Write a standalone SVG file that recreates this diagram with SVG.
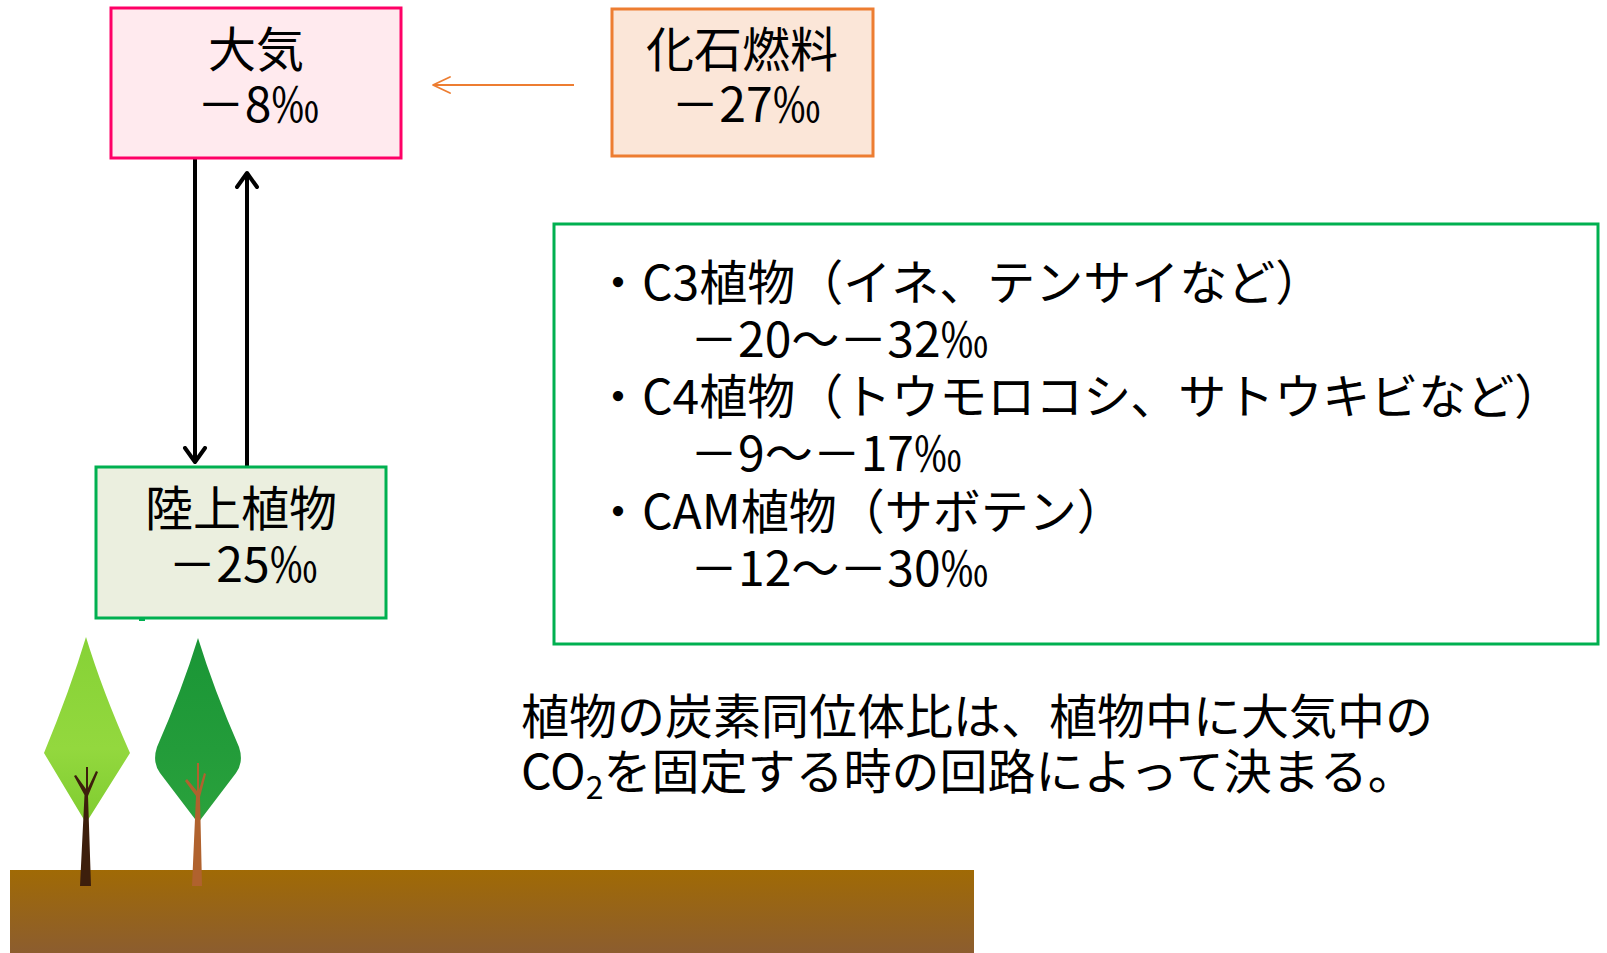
<svg xmlns="http://www.w3.org/2000/svg" width="1607" height="953" viewBox="0 0 1607 953">
  <style>
    text { font-family: "Noto Sans CJK JP", "Noto Sans", sans-serif; font-size: 48px; fill: #000; }
    .mid { text-anchor: middle; }
    .box { stroke-width: 3; }
    .flow { stroke: #000; stroke-width: 4; }
  </style>
  <defs>
    <marker id="headBlack" markerUnits="userSpaceOnUse" markerWidth="30" markerHeight="30" viewBox="-16 -15 30 30" refX="0" refY="0" orient="auto">
      <path d="M-14,-10 L0,0 L-14,10" fill="none" stroke="#000" stroke-width="4" stroke-linecap="round" stroke-linejoin="round"/>
    </marker>
    <marker id="headOrange" markerUnits="userSpaceOnUse" markerWidth="24" markerHeight="24" viewBox="-20 -12 24 24" refX="0" refY="0" orient="auto">
      <path d="M-17,-8 L0,0 L-17,8" fill="none" stroke="#ED7D31" stroke-width="1.8" stroke-linecap="round" stroke-linejoin="round"/>
    </marker>
    <linearGradient id="soil" x1="0" y1="0" x2="0" y2="1">
      <stop offset="0" stop-color="#A06A05"/>
      <stop offset="1" stop-color="#8C5D2F"/>
    </linearGradient>
    <linearGradient id="leafLight" x1="0" y1="0" x2="0" y2="1">
      <stop offset="0" stop-color="#86D236"/>
      <stop offset="0.6" stop-color="#93D83E"/>
      <stop offset="1" stop-color="#7FCC30"/>
    </linearGradient>
    <linearGradient id="leafDark" x1="0" y1="0" x2="0" y2="1">
      <stop offset="0" stop-color="#1A9636"/>
      <stop offset="0.6" stop-color="#239C3A"/>
      <stop offset="1" stop-color="#2AA23C"/>
    </linearGradient>
  </defs>

  <!-- ground -->
  <rect x="10" y="870" width="964" height="83" fill="url(#soil)"/>

  <!-- trees -->
  <g id="tree-left">
    <path d="M86,637 Q70,690 44,753 L86,823 L130,753 Q102,690 86,637 Z" fill="url(#leafLight)"/>
    <path d="M80,886 L84.5,795 L74,776 L76,775 L86,789 L86,767 L88,767 L88,788 L96,771 L98,772 L88,796 L91,886 Z" fill="#3D1F0C"/>
  </g>
  <g id="tree-right">
    <path d="M198,638 Q182,690 157,747 Q152,762 160,773 L198,823 L236,773 Q244,762 239,747 Q214,690 198,638 Z" fill="url(#leafDark)"/>
    <path d="M192,886 L196,796 L185,781 L187,779 L197,791 L197,763 L199,763 L199,790 L204,773 L206,774 L200,797 L202,886 Z" fill="#B0622E"/>
  </g>

  <!-- connectors -->
  <g id="connectors" fill="none">
    <line class="flow" x1="195" y1="159" x2="195" y2="462" marker-end="url(#headBlack)"/>
    <line class="flow" x1="247" y1="466" x2="247" y2="173" marker-end="url(#headBlack)"/>
    <line x1="574" y1="85" x2="433" y2="85" stroke="#ED7D31" stroke-width="1.8" marker-end="url(#headOrange)"/>
  </g>

  <!-- atmosphere -->
  <g id="node-atmosphere">
    <rect class="box" x="111" y="8" width="290" height="150" fill="#FFEAEE" stroke="#FF0066"/>
    <text class="mid" x="256" y="67">大気</text>
    <text class="mid" x="258" y="122">－8‰</text>
  </g>

  <!-- fossil fuel -->
  <g id="node-fossil">
    <rect class="box" x="612" y="9" width="261" height="147" fill="#FBE6D8" stroke="#ED7D31"/>
    <text class="mid" x="742" y="67">化石燃料</text>
    <text class="mid" x="746" y="122">－27‰</text>
  </g>

  <!-- land plants -->
  <g id="node-plants">
    <rect class="box" x="96" y="467" width="290" height="151" fill="#EBEFDF" stroke="#00B050"/>
    <rect x="139" y="617" width="6" height="4" fill="#00B050"/>
    <text class="mid" x="241" y="526">陸上植物</text>
    <text class="mid" x="243" y="582">－25‰</text>
  </g>

  <!-- photosynthesis pathways -->
  <g id="node-pathways">
    <rect class="box" x="554" y="224" width="1044" height="420" fill="#FFFFFF" stroke="#00B050"/>
    <text x="594" y="300">・C3植物（イネ、テンサイなど）</text>
    <text x="690" y="357">－20～－32‰</text>
    <text x="594" y="414">・C4植物（トウモロコシ、サトウキビなど）</text>
    <text x="690" y="471">－9～－17‰</text>
    <text x="594" y="529">・CAM植物（サボテン）</text>
    <text x="690" y="586">－12～－30‰</text>
  </g>

  <!-- note -->
  <g id="note">
    <text x="521" y="734">植物の炭素同位体比は、植物中に大気中の</text>
    <text x="521" y="789">CO<tspan font-size="32" dy="10">2</tspan><tspan dy="-10">を固定する時の回路によって決まる。</tspan></text>
  </g>
</svg>
